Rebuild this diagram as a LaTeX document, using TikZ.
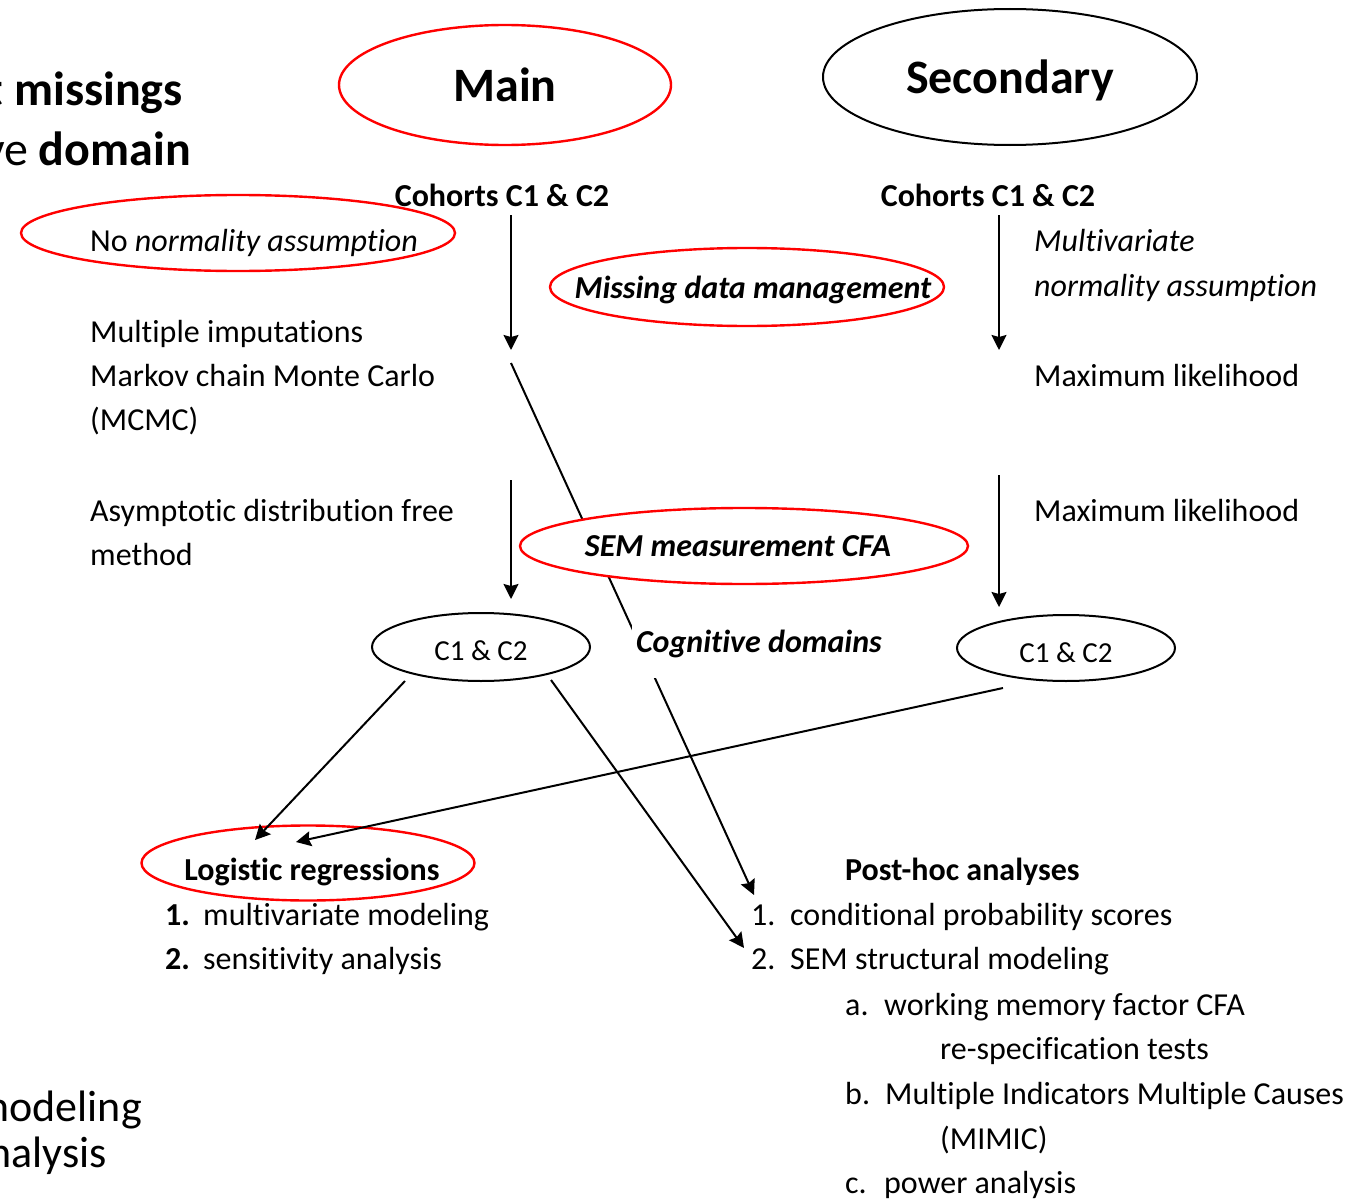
\documentclass[tikz,border=0pt]{standalone}
\usepackage{fontspec}
\setmainfont{Carlito}[Ligatures=NoCommon]
\usetikzlibrary{shapes.geometric,arrows.meta,calc}

\begin{document}
\begin{tikzpicture}[x=1pt,y=-1pt,
  fs/.style={font=\fontsize{#1pt}{#1pt}\selectfont},
  txt/.style={anchor=base west, inner sep=0pt, fs=32},
  ctr/.style={anchor=base, inner sep=0pt, fs=32},
  oval/.style={ellipse, draw=black, line width=2pt, inner sep=0pt},
  redoval/.style={ellipse, draw=red, line width=2.4pt, inner sep=0pt},
  link/.style={draw=black, line width=2pt},
  arr/.style={link, -{Stealth[length=15pt,width=15pt,inset=2pt]}},
]
\path[use as bounding box] (0,0) rectangle (1353,1199);
\clip (0,0) rectangle (1353,1199);

% --- title lines running off the left edge
\node[anchor=base east, inner sep=0pt, fs=48] (titleA) at (183,106) {\textbf{t missings}};
\node[anchor=base east, inner sep=0pt, fs=48] (titleB) at (191,165) {ve \textbf{domain}};
\node[anchor=base east, inner sep=0pt, fs=44] (footA) at (142,1121) {modeling};
\node[anchor=base east, inner sep=0pt, fs=44] (footB) at (107,1167) {analysis};

% --- the two branches
\node[redoval, minimum width=332pt, minimum height=120pt] (main) at (505,85) {};
\node[anchor=base, inner sep=0pt, fs=48] (mainT) at (505,102) {\textbf{Main}};
\node[oval, minimum width=374pt, minimum height=136pt] (sec) at (1010,77) {};
\node[anchor=base, inner sep=0pt, fs=48] (secT) at (1010,94) {\textbf{Secondary}};

\node[ctr] (cohL) at (502,206) {\textbf{Cohorts C1 \& C2}};
\node[ctr] (cohR) at (988,206) {\textbf{Cohorts C1 \& C2}};

% --- missing data level
\node[redoval, minimum width=434pt, minimum height=76pt] (nonorm) at (238,233) {};
\node[txt] (nonormT) at (90,251) {No \textit{normality assumption}};
\node[redoval, minimum width=394pt, minimum height=78pt] (mdm) at (747,287) {};
\node[ctr] (mdmT) at (753,298) {\textbf{\textit{Missing data management}}};
\node[txt] (mvA) at (1034,251) {\textit{Multivariate}};
\node[txt] (mvB) at (1034,296) {\textit{normality assumption}};
\node[txt] (miA) at (90,342) {Multiple imputations};
\node[txt] (miB) at (90,386) {Markov chain Monte Carlo};
\node[txt] (miC) at (90,430) {(MCMC)};
\node[txt] (mlA) at (1034,386) {Maximum likelihood};

\coordinate (endL1) at (511,350);
\coordinate (endR1) at (999,350);
\coordinate (diagS) at (511,363);
\draw[arr] ($(cohL.base)+(9,9)$) -- (endL1);
\draw[arr] ($(cohR.base)+(11,9)$) -- (endR1);

% --- measurement level
\node[txt] (adfA) at (90,521) {Asymptotic distribution free};
\node[txt] (adfB) at (90,565) {method};
\node[txt] (mlB) at (1034,521) {Maximum likelihood};

% --- post-hoc items (targets of the long connectors)
\node[anchor=base west, inner sep=0pt, fs=32] (ph) at (845,880) {\textbf{Post-hoc analyses}};
\node[txt] (ph1) at (751,925) {\makebox[39pt][l]{1.}conditional probability scores};
\node[txt] (ph2) at (751,969) {\makebox[39pt][l]{2.}SEM structural modeling};
\node[txt] (ph2a) at (845,1015) {\makebox[39pt][l]{a.}working memory factor CFA};
\node[txt] (ph2a2) at (940,1059) {re-specification tests};
\node[txt] (ph2b) at (845,1104) {\makebox[40pt][l]{b.}Multiple Indicators Multiple Causes};
\node[txt] (ph2b2) at (940,1149) {(MIMIC)};
\node[txt] (ph2c) at (845,1193) {\makebox[39pt][l]{c.}power analysis};

% long connector, later partly covered by the CFA oval and its label
\draw[arr] (diagS) -- ($(ph1.base west)+(3,-30)$);

\node[redoval, fill=white, minimum width=448pt, minimum height=76pt] (cfa) at (744,546) {};
\node[ctr] (cfaT) at (738,556) {\textbf{\textit{SEM measurement CFA}}};
\node[fill=white, inner sep=0pt, minimum width=258pt, minimum height=66pt] (cog) at (761,645) {};
\node[ctr] (cogT) at (759,652) {\textbf{\textit{Cognitive domains}}};

\coordinate (startL2) at (511,480);
\coordinate (startR2) at (999,475);
\node[oval, minimum width=218pt, minimum height=68pt] (c12L) at (481,647) {};
\node[anchor=base, inner sep=0pt, fs=29] (c12LT) at (481,660) {C1 \& C2};
\node[oval, minimum width=218pt, minimum height=66pt] (c12R) at (1066,648) {};
\node[anchor=base, inner sep=0pt, fs=29] (c12RT) at (1066,662) {C1 \& C2};
\draw[arr] (startL2) -- ($(c12L.north)+(30,-13)$);
\draw[arr] (startR2) -- ($(c12R.north)+(-67,-7)$);

% --- regressions
\node[redoval, minimum width=333pt, minimum height=75pt] (logit) at (308,863) {};
\node[ctr] (logitT) at (312,880) {\textbf{Logistic regressions}};
\node[txt] (lg1) at (165,925) {\makebox[38pt][l]{\textbf{1.}}multivariate modeling};
\node[txt] (lg2) at (165,969) {\makebox[38pt][l]{\textbf{2.}}sensitivity analysis};

\draw[arr] ($(c12L.center)+(-76,34)$) -- ($(logit.center)+(-53,-23)$);
\draw[arr] ($(c12R.center)+(-63,40)$) -- ($(logit.center)+(-12,-21)$);
\draw[arr] ($(c12L.center)+(70,33)$) -- ($(ph2.base west)+(-7,-21)$);
\end{tikzpicture}
\end{document}
